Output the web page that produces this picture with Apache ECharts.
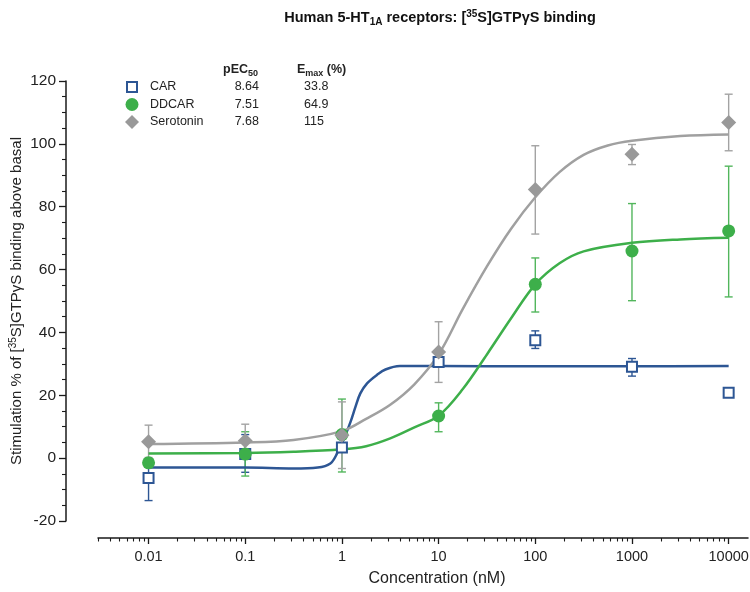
<!DOCTYPE html>
<html><head><meta charset="utf-8">
<script src="https://cdn.jsdelivr.net/npm/echarts@6/dist/echarts.min.js"></script>
<style>html,body{margin:0;padding:0;background:#fff}#c{width:750px;height:592px}</style>
</head><body><div id="c"></div>
<script>
// ---------- data ----------
const concentrations = [0.01, 0.1, 1, 10, 100, 1000, 10000];   // nM
const tickLabels = ['0.01', '0.1', '1', '10', '100', '1000', '10000'];
const yTicks = [-20, 0, 20, 40, 60, 80, 100, 120];

const carMean  = [-6.3, 1.3, 3.4, 30.6, 37.5, 29.1, 20.8];
const carLow   = [-13.5, -4.5, null, null, 34.9, 26.1, null];
const carHigh  = [-0.5, 7.5, null, null, 40.5, 31.7, null];

const ddcarMean = [-1.5, 1.3, 7.5, 13.4, 55.3, 65.9, 72.3];
const ddcarLow  = [null, -5.7, -4.4, 8.4, 46.5, 50.1, 51.3];
const ddcarHigh = [null, 8.4, 18.8, 17.6, 63.7, 81.0, 92.9];

const seroMean = [5.2, 5.5, 7.3, 33.8, 85.5, 96.7, 106.8];
const seroLow  = [0.2, 0.5, -3.3, 24.1, 71.3, 93.4, 97.8];
const seroHigh = [10.5, 10.8, 17.9, 43.4, 99.4, 99.8, 115.8];

// fitted curves (concentration in nM, response)
const carCurveC = [0.01, 0.0316, 0.1, 0.316, 0.562, 0.759, 0.891, 1.07, 1.23, 1.38, 1.55, 1.82, 2.29, 2.82, 3.98, 10, 100, 1000, 10000];
const carCurveY = [-3.0, -3.0, -3.0, -3.3, -3.0, -1.7, 1.5, 6.8, 11.6, 16.3, 20.6, 23.8, 26.4, 28.2, 29.3, 29.3, 29.2, 29.2, 29.3];

const ddcarCurveC = [0.01, 0.1, 0.316, 1, 1.78, 3.16, 5.62, 10, 17.8, 31.6, 56.2, 100, 178, 316, 1000, 3160, 10000];
const ddcarCurveY = [1.5, 1.6, 2.0, 2.8, 3.8, 6.3, 9.8, 13.5, 22.0, 33.0, 44.5, 55.3, 62.0, 65.8, 68.5, 69.6, 70.1];

const seroCurveC = [0.01, 0.1, 0.316, 1, 1.78, 3.16, 5.62, 10, 17.8, 31.6, 56.2, 100, 178, 316, 562, 1000, 3160, 10000];
const seroCurveY = [4.5, 5.0, 5.8, 8.6, 12.5, 17.0, 23.5, 33.0, 47.5, 61.0, 73.0, 83.0, 91.0, 96.5, 99.5, 101.0, 102.5, 103.0];

const legendNames = ['CAR', 'DDCAR', 'Serotonin'];
const pEC50 = ['8.64', '7.51', '7.68'];
const Emax = ['33.8', '64.9', '115'];

// ---------- styles ----------
const BLUE = '#2D5694', GREEN = '#3DAF4A', GREY = '#999999';
const GREEN_ERR = '#52B65C', GREY_ERR = '#A3A3A3', BLUE_ERR = '#2D5694';
const FONT = 'Liberation Sans, Arial, sans-serif';
const lg = Math.log10;

const pts = (xs, ys) => xs.map((c, i) => [lg(c), ys[i]]);
const errs = (lo, hi) => concentrations.map((c, i) => lo[i] == null ? null : [lg(c), lo[i], hi[i]]).filter(d => d);

function errRender(color) {
  return function (params, api) {
    const x = api.value(0);
    const p1 = api.coord([x, api.value(1)]);
    const p2 = api.coord([x, api.value(2)]);
    const w = 4;
    const st = { stroke: color, lineWidth: 1.4 };
    return { type: 'group', children: [
      { type: 'line', shape: { x1: p1[0], y1: p1[1], x2: p2[0], y2: p2[1] }, style: st },
      { type: 'line', shape: { x1: p1[0] - w, y1: p1[1], x2: p1[0] + w, y2: p1[1] }, style: st },
      { type: 'line', shape: { x1: p2[0] - w, y1: p2[1], x2: p2[0] + w, y2: p2[1] }, style: st }
    ]};
  };
}

const majorTickVals = concentrations.map(lg);
const minorTickVals = [];
for (let e = -3; e <= 4; e++) for (let k = 2; k <= 9; k++) {
  const v = lg(k) + e;
  if (v >= lg(0.003) - 1e-9 && v <= 4.2) minorTickVals.push(v);
}

const XMIN = lg(0.003), XMAX = 4.2;
const labelMap = {};
concentrations.forEach((c, i) => { labelMap[lg(c).toFixed(3)] = tickLabels[i]; });

const chart = echarts.init(document.getElementById('c'), null, { renderer: 'canvas' });
const legendGraphics = [];
const rowY = [87, 104.5, 122];
legendGraphics.push({ type: 'rect', shape: { x: 127, y: rowY[0] - 5, width: 10, height: 10 }, style: { fill: '#fff', stroke: BLUE, lineWidth: 2 } });
legendGraphics.push({ type: 'circle', shape: { cx: 132, cy: rowY[1], r: 6.5 }, style: { fill: GREEN } });
legendGraphics.push({ type: 'polygon', shape: { points: [[132, rowY[2] - 7], [139, rowY[2]], [132, rowY[2] + 7], [125, rowY[2]]] }, style: { fill: GREY } });
legendNames.forEach((n, i) => {
  legendGraphics.push({ type: 'text', style: { text: n, x: 150, y: rowY[i], font: '12.5px ' + FONT, fill: '#222', verticalAlign: 'middle' } });
  legendGraphics.push({ type: 'text', style: { text: pEC50[i], x: 259, y: rowY[i], font: '12.5px ' + FONT, fill: '#222', align: 'right', verticalAlign: 'middle' } });
  legendGraphics.push({ type: 'text', style: { text: Emax[i], x: 304, y: rowY[i], font: '12.5px ' + FONT, fill: '#222', align: 'left', verticalAlign: 'middle' } });
});
legendGraphics.push({ type: 'text', style: {
  text: '{a|pEC}{s|50}', x: 223, y: 70, verticalAlign: 'middle', fill: '#222',
  rich: { a: { fontFamily: FONT, fontSize: 12.5, fontWeight: 'bold', lineHeight: 16, verticalAlign: 'middle' },
          s: { fontFamily: FONT, fontSize: 9, fontWeight: 'bold', lineHeight: 9, verticalAlign: 'bottom' } } } });
legendGraphics.push({ type: 'text', style: {
  text: '{a|E}{s|max}{a| (%)}', x: 297, y: 70, verticalAlign: 'middle', fill: '#222',
  rich: { a: { fontFamily: FONT, fontSize: 12.5, fontWeight: 'bold', lineHeight: 16, verticalAlign: 'middle' },
          s: { fontFamily: FONT, fontSize: 9, fontWeight: 'bold', lineHeight: 9, verticalAlign: 'bottom' } } } });
legendGraphics.push({ type: 'text', style: {
  text: '{a|Human 5-HT}{s|1A}{a| receptors: [}{p|35}{a|S]GTPγS binding}', x: 440, y: 18, align: 'center', verticalAlign: 'middle', fill: '#111',
  rich: { a: { fontFamily: FONT, fontSize: 14.5, fontWeight: 'bold', lineHeight: 18, verticalAlign: 'middle' },
          s: { fontFamily: FONT, fontSize: 10, fontWeight: 'bold', lineHeight: 10, verticalAlign: 'bottom' },
          p: { fontFamily: FONT, fontSize: 10, fontWeight: 'bold', lineHeight: 10, verticalAlign: 'top' } } } });

const axisLineStyle = { color: '#1a1a1a', width: 1.5 };

const option = {
  animation: false,
  backgroundColor: '#fff',
  textStyle: { fontFamily: FONT },
  grid: { left: 98, right: 2, top: 81, bottom: 71, containLabel: false, outerBoundsMode: 'none' },
  xAxis: [{
    type: 'value', min: XMIN, max: XMAX, position: 'bottom', offset: 17,
    splitLine: { show: false },
    axisLine: { show: true, onZero: false, lineStyle: axisLineStyle },
    axisTick: { show: true, customValues: majorTickVals, length: 6, lineStyle: { color: '#1a1a1a', width: 1.3 } },
    axisLabel: { customValues: majorTickVals, color: '#222', fontSize: 14.5, margin: 11,
      formatter: v => labelMap[v.toFixed(3)] || '' },
    name: 'Concentration (nM)', nameLocation: 'middle', nameGap: 33, nameMoveOverlap: false,
    nameTextStyle: { color: '#222', fontSize: 16, padding: [0, 0, 0, 28] }
  }, {
    type: 'value', min: XMIN, max: XMAX, position: 'bottom', offset: 17,
    splitLine: { show: false },
    axisLine: { show: false, onZero: false },
    axisTick: { show: true, customValues: minorTickVals, length: 3.5, lineStyle: { color: '#1a1a1a', width: 1.1 } },
    axisLabel: { show: false }
  }],
  yAxis: {
    type: 'value', min: -20, max: 120, interval: 20, offset: 32,
    splitLine: { show: false },
    axisLine: { show: true, onZero: false, lineStyle: axisLineStyle },
    axisTick: { show: true, length: 7, lineStyle: { color: '#1a1a1a', width: 1.3 } },
    minorTick: { show: true, splitNumber: 4, length: 4, lineStyle: { color: '#1a1a1a', width: 1.1 } },
    axisLabel: { color: '#222', fontSize: 15.5, margin: 10 },
    name: '{a|Stimulation % of [}{s|35}{a|S]GTPγS binding above basal}',
    nameLocation: 'middle', nameGap: 40, nameMoveOverlap: false,
    nameTextStyle: { color: '#222', rich: {
      a: { fontFamily: FONT, fontSize: 15, lineHeight: 18, verticalAlign: 'middle', color: '#222' },
      s: { fontFamily: FONT, fontSize: 10, lineHeight: 10, verticalAlign: 'top', color: '#222' } } }
  },
  graphic: legendGraphics,
  series: [
    { type: 'custom', name: 'CAR err', renderItem: errRender(BLUE_ERR), data: errs(carLow, carHigh), encode: { x: 0, y: [1, 2] }, z: 2 },
    { type: 'custom', name: 'DDCAR err', renderItem: errRender(GREEN_ERR), data: errs(ddcarLow, ddcarHigh), encode: { x: 0, y: [1, 2] }, z: 2 },
    { type: 'custom', name: 'Serotonin err', renderItem: errRender(GREY_ERR), data: errs(seroLow, seroHigh), encode: { x: 0, y: [1, 2] }, z: 2 },
    { type: 'line', name: 'CAR fit', data: pts(carCurveC, carCurveY), smooth: 0.35, showSymbol: false, lineStyle: { color: BLUE, width: 2.5 }, z: 3 },
    { type: 'line', name: 'DDCAR fit', data: pts(ddcarCurveC, ddcarCurveY), smooth: 0.35, showSymbol: false, lineStyle: { color: GREEN, width: 2.5 }, z: 3 },
    { type: 'line', name: 'Serotonin fit', data: pts(seroCurveC, seroCurveY), smooth: 0.35, showSymbol: false, lineStyle: { color: '#A0A0A0', width: 2.5 }, z: 3 },
    { type: 'scatter', name: 'CAR', data: pts(concentrations, carMean), symbol: 'rect', symbolSize: 10, itemStyle: { color: '#fff', borderColor: BLUE, borderWidth: 2, opacity: 1 }, z: 4 },
    { type: 'scatter', name: 'DDCAR', data: pts(concentrations, ddcarMean), symbol: 'circle', symbolSize: 13, itemStyle: { color: GREEN, opacity: 1 }, z: 5 },
    { type: 'scatter', name: 'Serotonin', data: pts(concentrations, seroMean), symbol: 'diamond', symbolSize: 15, itemStyle: { color: GREY, opacity: 1 }, z: 6 }
  ]
};
chart.setOption(option);
</script>
</body></html>
